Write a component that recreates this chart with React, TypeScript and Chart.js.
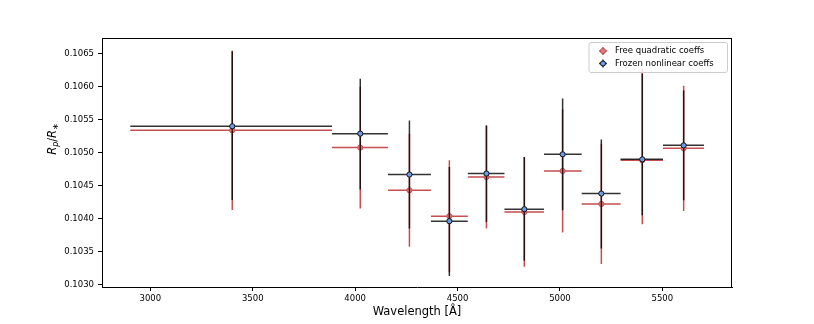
import React, { useEffect, useRef } from 'react';
import { Chart, registerables } from 'chart.js';

Chart.register(...registerables);

// ---- data ----
const wavelength = [3400, 4025, 4265, 4460, 4641, 4826, 5013, 5202, 5402, 5604];
const binLow = [2902, 3887, 4160, 4370, 4550, 4729, 4922, 5106, 5296, 5503];
const binHigh = [3887, 4160, 4370, 4550, 4729, 4922, 5106, 5296, 5503, 5703];

const freeRadius = [0.105338, 0.105076, 0.104429, 0.104035, 0.10463, 0.1041, 0.104721, 0.104221, 0.104883, 0.105065];
const freeErrLow = [0.00121, 0.000925, 0.000859, 0.00085, 0.000782, 0.000833, 0.000933, 0.000913, 0.000969, 0.00095];
const freeErrHigh = [0.00121, 0.000925, 0.000859, 0.000848, 0.000782, 0.000833, 0.000933, 0.000913, 0.00139, 0.00095];

const frozenRadius = [0.1054, 0.105288, 0.104667, 0.103959, 0.104682, 0.104141, 0.104974, 0.104379, 0.104898, 0.10511];
const frozenErrLow = [0.00112, 0.000849, 0.000819, 0.000833, 0.000734, 0.000783, 0.000848, 0.000834, 0.000848, 0.000833];
const frozenErrHigh = [0.00114, 0.000833, 0.000822, 0.000823, 0.000731, 0.000792, 0.000848, 0.000822, 0.0013, 0.000833];

const xTicks = [3000, 3500, 4000, 4500, 5000, 5500];
const yTicks = [0.103, 0.1035, 0.104, 0.1045, 0.105, 0.1055, 0.106, 0.1065];
const legendLabels = ['Free quadratic coeffs', 'Frozen nonlinear coeffs'];
const xTitle = 'Wavelength [Å]';

const FONT = 'DejaVu Sans';
const RED = '#c44e52';
const RED_FACE = '#e07b7b';
const BLACK = 'rgba(0,0,0,0.8)';
const BLUE_FACE = '#6b9be6';
const MARKER_R = 2.6;

export default function App() {
  const ref = useRef<HTMLCanvasElement>(null);

  useEffect(() => {
    document.body.style.margin = '0';
    const canvas = ref.current;
    if (!canvas) return;

    const errorBars = {
      id: 'errorBars',
      beforeDatasetDraw(chart: any, args: any) {
        const ds = chart.data.datasets[args.index];
        const { ctx, scales } = chart;
        const x = scales.x;
        const y = scales.y;
        ctx.save();
        ctx.strokeStyle = ds.errColor;
        ctx.lineWidth = 1.5;
        for (let i = 0; i < wavelength.length; i++) {
          const px = x.getPixelForValue(wavelength[i]);
          const py = y.getPixelForValue(ds.vals[i]);
          const x0 = x.getPixelForValue(binLow[i]);
          const x1 = x.getPixelForValue(binHigh[i]);
          const yTop = y.getPixelForValue(ds.vals[i] + ds.hi[i]);
          const yBot = y.getPixelForValue(ds.vals[i] - ds.lo[i]);
          ctx.beginPath();
          ctx.moveTo(x0, py);
          ctx.lineTo(x1, py);
          ctx.moveTo(px, yTop);
          ctx.lineTo(px, yBot);
          ctx.stroke();
        }
        ctx.restore();
      },
    };

    const decorations = {
      id: 'decorations',
      afterDraw(chart: any) {
        const { ctx, chartArea } = chart;
        const { left, right, top, bottom } = chartArea;
        ctx.save();
        // top & right frame
        ctx.strokeStyle = '#000';
        ctx.lineWidth = 1;
        ctx.beginPath();
        ctx.moveTo(Math.round(left), Math.round(top) + 0.5);
        ctx.lineTo(Math.round(right), Math.round(top) + 0.5);
        ctx.moveTo(Math.round(right) - 0.5, Math.round(top));
        ctx.lineTo(Math.round(right) - 0.5, Math.round(bottom) + 1);
        ctx.stroke();

        // x title
        ctx.fillStyle = '#000';
        ctx.font = `11.5px "${FONT}"`;
        ctx.textAlign = 'center';
        ctx.textBaseline = 'middle';
        ctx.fillText(xTitle, (left + right) / 2, 312);

        // y title R_p / R_*
        ctx.save();
        ctx.translate(56, 139);
        ctx.rotate(-Math.PI / 2);
        ctx.textBaseline = 'alphabetic';
        ctx.textAlign = 'left';
        const big = `italic 11.5px "${FONT}"`;
        const bigN = `11.5px "${FONT}"`;
        const small = `italic 8px "${FONT}"`;
        const smallN = `8px "${FONT}"`;
        const parts = [
          { t: 'R', f: big, dy: 0 },
          { t: 'p', f: small, dy: 2.2 },
          { t: '/', f: bigN, dy: 0 },
          { t: 'R', f: big, dy: 0 },
          { t: '∗', f: smallN, dy: 2.2 },
        ];
        let total = 0;
        const widths = parts.map((p) => {
          ctx.font = p.f;
          const w = ctx.measureText(p.t).width;
          total += w;
          return w;
        });
        let cx = -total / 2;
        parts.forEach((p, i) => {
          ctx.font = p.f;
          ctx.fillText(p.t, cx, p.dy);
          cx += widths[i];
        });
        ctx.restore();

        // legend
        const bx = 589, by = 42.5, bw = 138.5, bh = 30;
        ctx.beginPath();
        const r = 2;
        ctx.moveTo(bx + r, by);
        ctx.lineTo(bx + bw - r, by);
        ctx.quadraticCurveTo(bx + bw, by, bx + bw, by + r);
        ctx.lineTo(bx + bw, by + bh - r);
        ctx.quadraticCurveTo(bx + bw, by + bh, bx + bw - r, by + bh);
        ctx.lineTo(bx + r, by + bh);
        ctx.quadraticCurveTo(bx, by + bh, bx, by + bh - r);
        ctx.lineTo(bx, by + r);
        ctx.quadraticCurveTo(bx, by, bx + r, by);
        ctx.closePath();
        ctx.fillStyle = 'rgba(255,255,255,0.8)';
        ctx.fill();
        ctx.strokeStyle = '#cccccc';
        ctx.lineWidth = 1;
        ctx.stroke();

        const rows = [
          { label: legendLabels[0], line: RED, face: RED_FACE, edge: RED, y: 51 },
          { label: legendLabels[1], line: BLACK, face: BLUE_FACE, edge: '#111', y: 63.5 },
        ];
        rows.forEach((row) => {
          const ix = 603;
          ctx.strokeStyle = row.line;
          ctx.lineWidth = 1.5;
          ctx.beginPath();
          ctx.moveTo(ix - 4, row.y);
          ctx.lineTo(ix + 4, row.y);
          ctx.moveTo(ix, row.y - 4);
          ctx.lineTo(ix, row.y + 4);
          ctx.stroke();
          ctx.beginPath();
          ctx.arc(ix, row.y, MARKER_R, 0, Math.PI * 2);
          ctx.fillStyle = row.face;
          ctx.fill();
          ctx.strokeStyle = row.edge;
          ctx.lineWidth = 1;
          ctx.stroke();
          ctx.fillStyle = '#000';
          ctx.font = `8.5px "${FONT}"`;
          ctx.textAlign = 'left';
          ctx.textBaseline = 'middle';
          ctx.fillText(row.label, 615, row.y);
        });
        ctx.restore();
      },
    };

    const tickFont = { family: FONT, size: 8.5 };

    const chart = new Chart(canvas, {
      type: 'scatter',
      data: {
        datasets: [
          {
            label: legendLabels[1],
            data: wavelength.map((w, i) => ({ x: w, y: frozenRadius[i] })),
            order: 0,
            pointRadius: MARKER_R,
            pointHoverRadius: MARKER_R,
            pointBackgroundColor: BLUE_FACE,
            pointBorderColor: '#111',
            pointBorderWidth: 1,
            showLine: false,
            errColor: BLACK,
            vals: frozenRadius,
            lo: frozenErrLow,
            hi: frozenErrHigh,
          } as any,
          {
            label: legendLabels[0],
            data: wavelength.map((w, i) => ({ x: w, y: freeRadius[i] })),
            order: 1,
            pointRadius: MARKER_R,
            pointHoverRadius: MARKER_R,
            pointBackgroundColor: RED_FACE,
            pointBorderColor: RED,
            pointBorderWidth: 1,
            showLine: false,
            errColor: RED,
            vals: freeRadius,
            lo: freeErrLow,
            hi: freeErrHigh,
          } as any,
        ],
      },
      options: {
        animation: false,
        responsive: false,
        maintainAspectRatio: false,
        layout: { padding: { left: 0, right: 82, top: 38, bottom: 0 } },
        plugins: { legend: { display: false }, tooltip: { enabled: false } },
        scales: {
          x: {
            type: 'linear',
            min: 2764,
            max: 5840,
            afterFit(s: any) { s.height = 37; },
            afterBuildTicks(s: any) { s.ticks = xTicks.map((v) => ({ value: v })); },
            grid: { display: true, drawOnChartArea: false, drawTicks: true, tickLength: 4, color: '#000', lineWidth: 1 },
            border: { display: true, color: '#000', width: 1 },
            ticks: { font: tickFont, color: '#000', padding: 3, maxRotation: 0, autoSkip: false, callback: (v: any) => String(v) },
          },
          y: {
            type: 'linear',
            min: 0.10296,
            max: 0.10674,
            afterFit(s: any) { s.width = 102; },
            afterBuildTicks(s: any) { s.ticks = yTicks.map((v) => ({ value: v })); },
            grid: { display: true, drawOnChartArea: false, drawTicks: true, tickLength: 4, color: '#000', lineWidth: 1 },
            border: { display: true, color: '#000', width: 1 },
            ticks: { font: tickFont, color: '#000', padding: 4, autoSkip: false, callback: (v: any) => Number(v).toFixed(4) },
          },
        },
      },
      plugins: [errorBars, decorations],
    } as any);

    return () => chart.destroy();
  }, []);

  return (
    <div style={{ position: 'absolute', left: 0, top: 0, width: 814, height: 324, background: '#fff' }}>
      <canvas ref={ref} width={814} height={324} style={{ display: 'block', width: 814, height: 324 }} />
    </div>
  );
}
